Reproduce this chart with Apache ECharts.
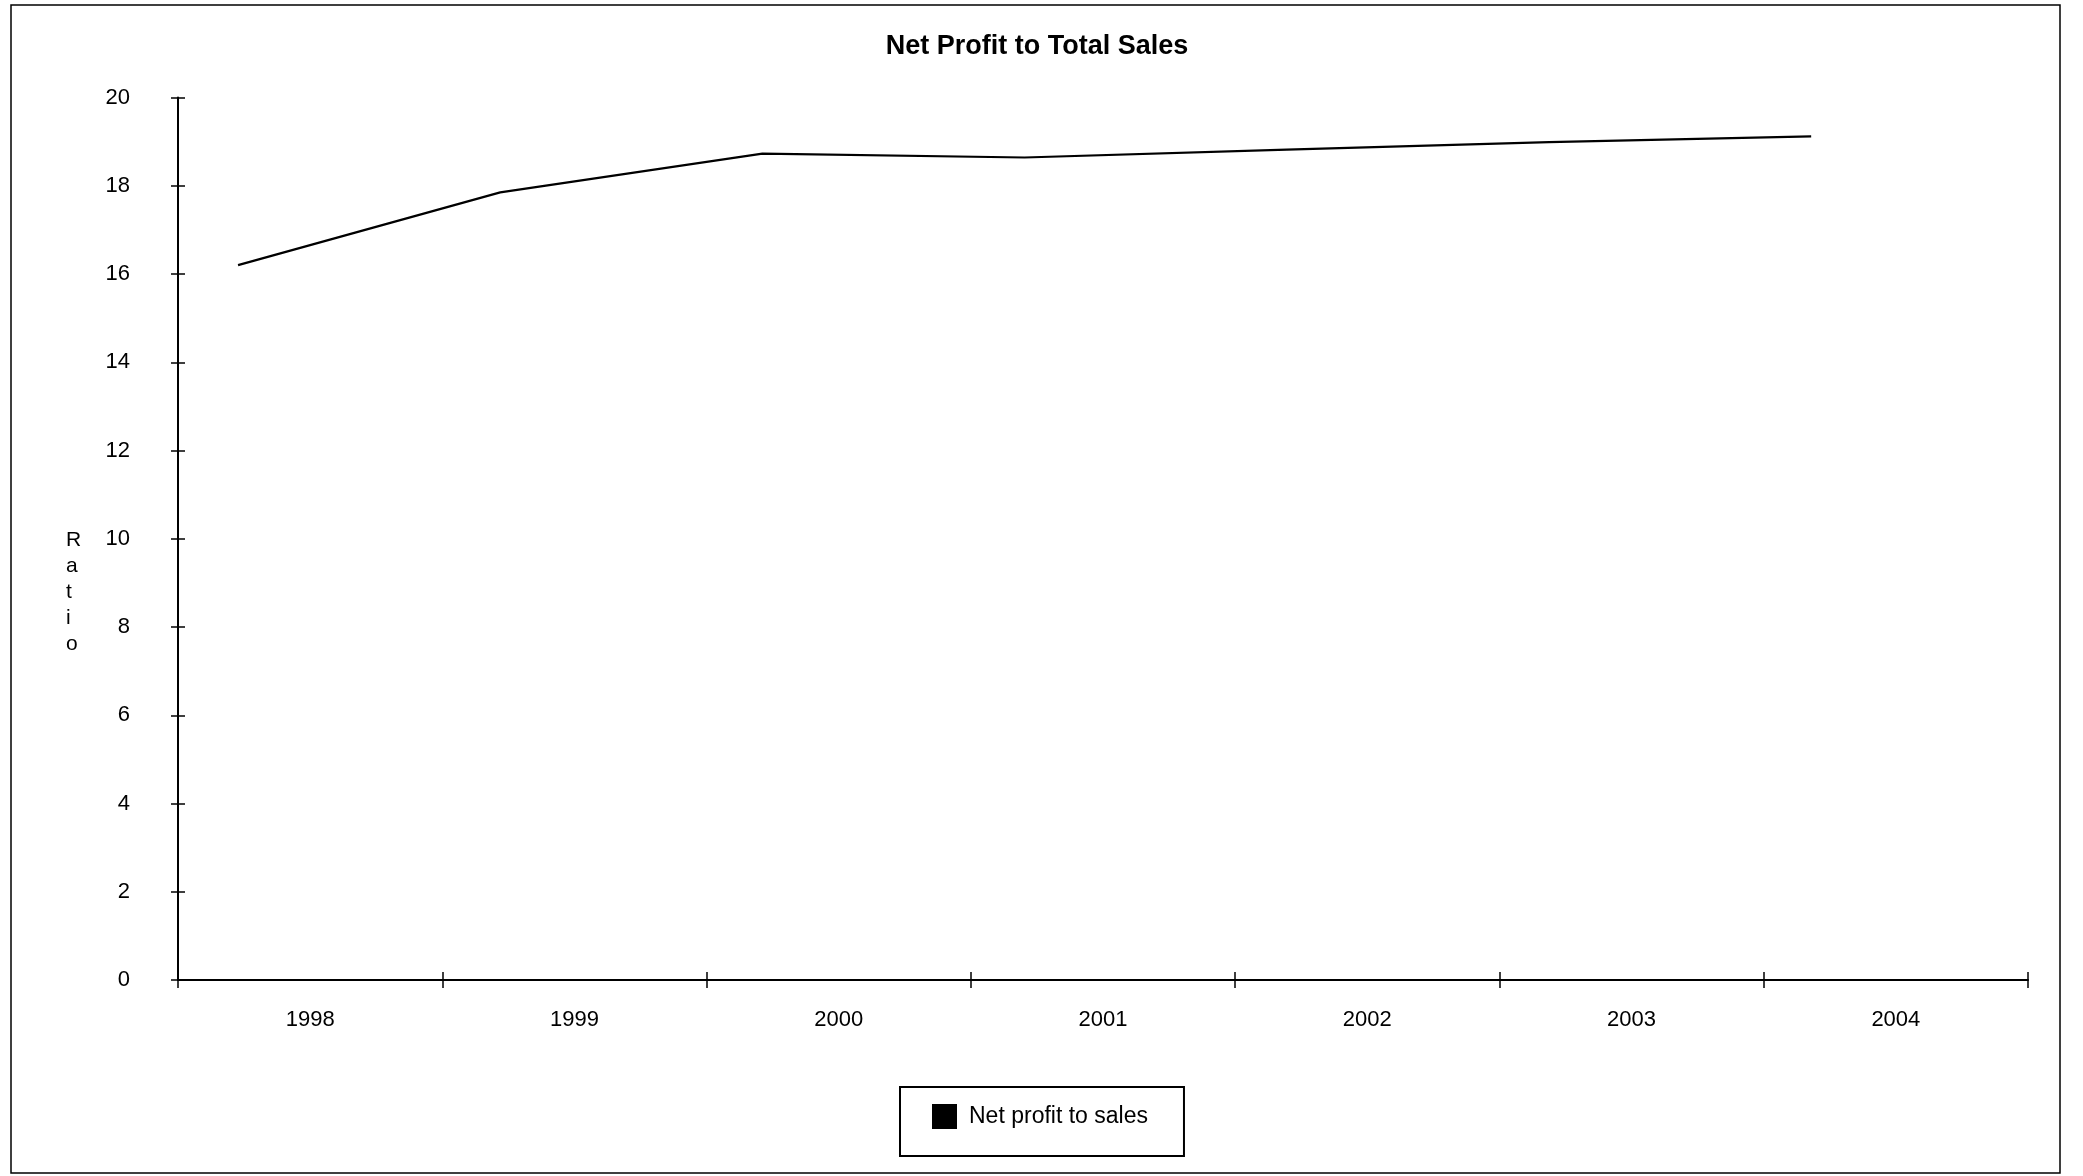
<!DOCTYPE html>
<html>
<head>
<meta charset="utf-8">
<script src="https://cdn.jsdelivr.net/npm/echarts@6/dist/echarts.min.js"></script>
<style>
  html, body { margin: 0; padding: 0; background: #fff; }
  #chart { width: 2083px; height: 1176px; }
</style>
</head>
<body>
<div id="chart"></div>
<script>
// ---- data ----
const years = ['1998', '1999', '2000', '2001', '2002', '2003', '2004'];
const netProfitToSales = [16.2, 17.85, 18.73, 18.64, 18.82, 18.99, 19.12];
const yTicks = { min: 0, max: 20, interval: 2 };
const seriesName = 'Net profit to sales';
const titleText = 'Net Profit to Total Sales';
const yAxisTitle = 'Ratio';

const font = '"Liberation Sans", Arial, sans-serif';
const chart = echarts.init(document.getElementById('chart'), null, { renderer: 'canvas' });

const grid = { left: 178, right: 55, top: 97.5, bottom: 196 };

const option = {
  backgroundColor: '#fff',
  animation: false,
  title: {
    text: titleText,
    left: 1032, textAlign: 'center',
    top: 28,
    textStyle: { fontFamily: font, fontSize: 27, fontWeight: 'bold', color: '#000' }
  },
  legend: {
    data: [seriesName],
    left: 900, top: 1087,
    orient: 'horizontal',
    icon: 'rect',
    itemWidth: 25, itemHeight: 25,
    padding: [17, 36, 27, 32],
    borderColor: '#000', borderWidth: 2,
    backgroundColor: '#fff',
    textStyle: { fontFamily: font, fontSize: 23, color: '#000', padding: [3, 0, 0, 7] },
    itemStyle: { color: '#000' }
  },
  grid: grid,
  xAxis: [
    {
      type: 'category', data: years, boundaryGap: true, position: 'bottom',
      axisLine: { show: true, lineStyle: { color: '#000', width: 2 } },
      axisTick: { show: true, inside: false, length: 8, lineStyle: { color: '#000', width: 1.5 } },
      axisLabel: { fontFamily: font, fontSize: 22, color: '#000', margin: 29 },
      splitLine: { show: false }
    },
    {
      type: 'category', data: years, boundaryGap: true, position: 'bottom', offset: 0,
      axisLine: { show: false },
      axisTick: { show: true, inside: true, length: 8, lineStyle: { color: '#000', width: 1.5 } },
      axisLabel: { show: false },
      splitLine: { show: false }
    },
    {
      type: 'value', min: 1997.771, max: 2004.827, show: false
    }
  ],
  yAxis: [
    {
      type: 'value', min: yTicks.min, max: yTicks.max, interval: yTicks.interval, position: 'left',
      axisLine: { show: true, lineStyle: { color: '#000', width: 2 } },
      axisTick: { show: true, inside: false, length: 7, lineStyle: { color: '#000', width: 1.5 } },
      axisLabel: { fontFamily: font, fontSize: 22, color: '#000', margin: 48 },
      splitLine: { show: false }
    },
    {
      type: 'value', min: yTicks.min, max: yTicks.max, interval: yTicks.interval, position: 'left', offset: 0,
      axisLine: { show: false },
      axisTick: { show: true, inside: true, length: 7, lineStyle: { color: '#000', width: 1.5 } },
      axisLabel: { show: false },
      splitLine: { show: false }
    }
  ],
  graphic: [
    {
      type: 'rect', z: -1, silent: true,
      shape: { x: 11, y: 5, width: 2049, height: 1168 },
      style: { fill: 'none', stroke: '#000', lineWidth: 1.5 }
    },
    {
      type: 'text', left: 66, top: 527, silent: true,
      style: {
        text: yAxisTitle.split('').join('\n'),
        font: '21px ' + font, fill: '#000',
        lineHeight: 26, align: 'center'
      }
    }
  ],
  series: [
    {
      name: seriesName, type: 'line',
      xAxisIndex: 2, yAxisIndex: 0,
      data: years.map((y, i) => [Number(y), netProfitToSales[i]]),
      symbol: 'none',
      lineStyle: { color: '#000', width: 2.2 },
      itemStyle: { color: '#000' }
    }
  ]
};
chart.setOption(option);
</script>
</body>
</html>
